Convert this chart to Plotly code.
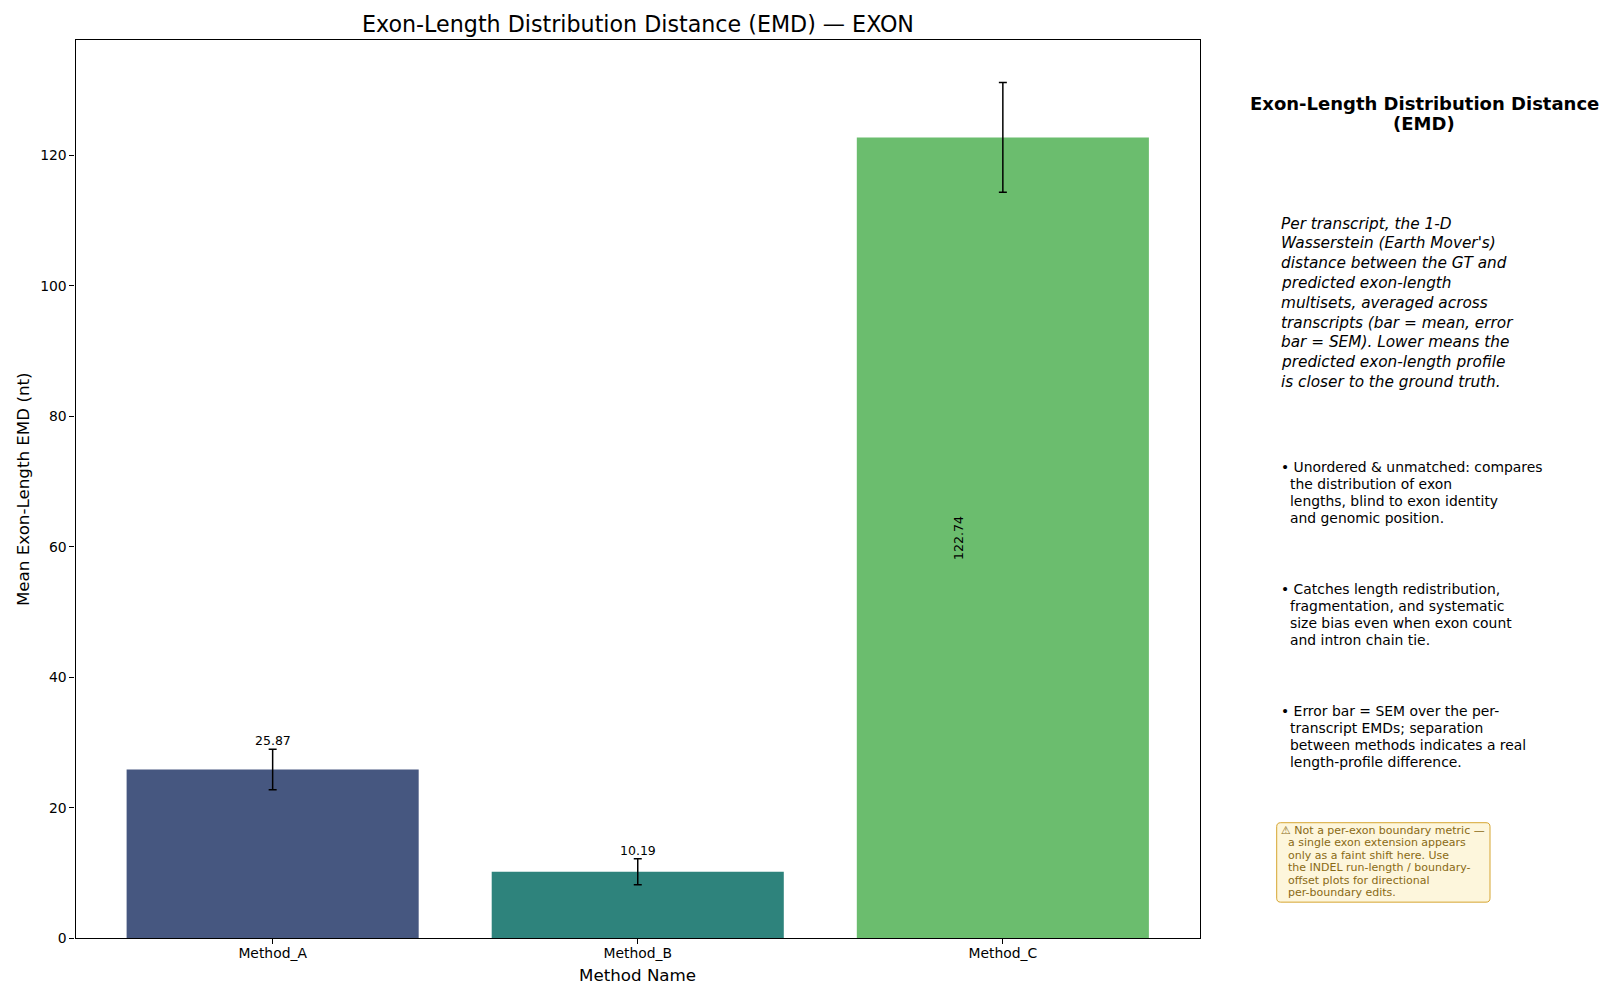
import plotly.graph_objects as go

methods = ["Method_A", "Method_B", "Method_C"]
mean_emd = [25.87, 10.19, 122.74]
sem_emd = [3.1, 2.0, 8.4]
bar_colors = ["#465780", "#2e837c", "#6bbd6e"]
value_labels = ["25.87", "10.19", "122.74"]

title = "Exon-Length Distribution Distance (EMD) — EXON"
panel_title = ["Exon-Length Distribution Distance", "(EMD)"]
intro_lines = [
    "Per transcript, the 1-D",
    "Wasserstein (Earth Mover's)",
    "distance between the GT and",
    "predicted exon-length",
    "multisets, averaged across",
    "transcripts (bar = mean, error",
    "bar = SEM). Lower means the",
    "predicted exon-length profile",
    "is closer to the ground truth.",
]
bullets = [
    ["• Unordered & unmatched: compares", "the distribution of exon",
     "lengths, blind to exon identity", "and genomic position."],
    ["• Catches length redistribution,", "fragmentation, and systematic",
     "size bias even when exon count", "and intron chain tie."],
    ["• Error bar = SEM over the per-", "transcript EMDs; separation",
     "between methods indicates a real", "length-profile difference."],
]
warning_lines = [
    "⚠ Not a per-exon boundary metric —",
    "a single exon extension appears",
    "only as a faint shift here. Use",
    "the INDEL run-length / boundary-",
    "offset plots for directional",
    "per-boundary edits.",
]

W, H = 1600, 1000
HEFF = 991.5
FONT = "DejaVu Sans"
L, R, T, B = 75.5, 1200, 39.8, 937.8


def px(x):
    return x / W


def py(y):
    return 1 - y / HEFF


fig = go.Figure()
fig.add_trace(go.Bar(
    x=methods, y=mean_emd, width=0.8,
    marker=dict(color=bar_colors, line=dict(width=0)),
    error_y=dict(type="data", array=sem_emd, visible=True,
                 color="black", thickness=1.5, width=4),
    showlegend=False,
))

ann = []
# value labels
for i, (m, v, s, lab) in enumerate(zip(methods, mean_emd, sem_emd, value_labels)):
    if v > 100:
        ann.append(dict(x=i - 0.12, y=v / 2, xref="x", yref="y", text=lab,
                        textangle=-90, showarrow=False,
                        font=dict(family=FONT, size=12.5, color="black")))
    else:
        ann.append(dict(x=m, y=v + s, xref="x", yref="y", text=lab,
                        yanchor="bottom", yshift=-1, showarrow=False,
                        font=dict(family=FONT, size=12.5, color="black")))

# title and axis labels
ann.append(dict(x=px((L + R) / 2), y=py(23.5), xref="paper", yref="paper",
                text=title, showarrow=False, xanchor="center", yanchor="middle",
                font=dict(family=FONT, size=22.2, color="black")))
ann.append(dict(x=px((L + R) / 2), y=py(975), xref="paper", yref="paper",
                text="Method Name", showarrow=False, xanchor="center", yanchor="middle",
                font=dict(family=FONT, size=16.7, color="black")))
ann.append(dict(x=px(23), y=py((T + B) / 2), xref="paper", yref="paper",
                text="Mean Exon-Length EMD (nt)", textangle=-90, showarrow=False,
                xanchor="center", yanchor="middle",
                font=dict(family=FONT, size=16.7, color="black")))

# right panel
for j, line in enumerate(panel_title):
    ann.append(dict(x=px(1424), y=py(103 + j * 20.5), xref="paper", yref="paper",
                    text="<b>" + line + "</b>", showarrow=False,
                    xanchor="center", yanchor="middle",
                    font=dict(family=FONT, size=18, color="black")))
for j, line in enumerate(intro_lines):
    ann.append(dict(x=px(1279), y=py(223.5 + j * 19.77), xref="paper", yref="paper",
                    text="<i>" + line + "</i>", showarrow=False,
                    xanchor="left", yanchor="middle",
                    font=dict(family=FONT, size=15.3, color="black")))
block_starts = [466.3, 588.3, 710.2]
for bstart, block in zip(block_starts, bullets):
    for j, line in enumerate(block):
        ann.append(dict(x=px(1279 if j == 0 else 1287.5), y=py(bstart + j * 17.2),
                        xref="paper", yref="paper", text=line, showarrow=False,
                        xanchor="left", yanchor="middle",
                        font=dict(family=FONT, size=13.9, color="black")))
for j, line in enumerate(warning_lines):
    ann.append(dict(x=px(1279 if j == 0 else 1286), y=py(830 + j * 12.45),
                    xref="paper", yref="paper", text=line, showarrow=False,
                    xanchor="left", yanchor="middle",
                    font=dict(family=FONT, size=11, color="#8a6a14")))

# rounded warning box
x0, x1, y0, y1, r = 1276.7, 1490, 822.3, 901.7, 4
pts = (f"M {px(x0 + r)} {py(y0)} L {px(x1 - r)} {py(y0)} "
       f"Q {px(x1)} {py(y0)} {px(x1)} {py(y0 + r)} "
       f"L {px(x1)} {py(y1 - r)} Q {px(x1)} {py(y1)} {px(x1 - r)} {py(y1)} "
       f"L {px(x0 + r)} {py(y1)} Q {px(x0)} {py(y1)} {px(x0)} {py(y1 - r)} "
       f"L {px(x0)} {py(y0 + r)} Q {px(x0)} {py(y0)} {px(x0 + r)} {py(y0)} Z")
shapes = [dict(type="path", xref="paper", yref="paper", path=pts,
               fillcolor="#fdf6dc", line=dict(color="#d6a531", width=1), layer="below")]

fig.update_layout(
    width=W, height=H,
    margin=dict(l=0, r=0, t=0, b=0),
    paper_bgcolor="white", plot_bgcolor="white",
    font=dict(family=FONT, color="black"),
    bargap=0.2,
    annotations=ann,
    shapes=shapes,
    xaxis=dict(domain=[px(L), px(R)], range=[-0.54, 2.54],
               showline=True, mirror=True, linecolor="black", linewidth=1.1,
               ticks="outside", ticklen=5, tickwidth=1.1, tickcolor="black",
               ticklabelstandoff=-3,
               showgrid=False, zeroline=False,
               tickfont=dict(family=FONT, size=13.9, color="black")),
    yaxis=dict(domain=[py(B), py(T)], range=[0, 137.7],
               showline=True, mirror=True, linecolor="black", linewidth=1.1,
               ticks="outside", ticklen=5, tickwidth=1.1, tickcolor="black",
               tickvals=[0, 20, 40, 60, 80, 100, 120],
               showgrid=False, zeroline=False,
               tickfont=dict(family=FONT, size=13.9, color="black")),
)

fig.write_html("out.html")
